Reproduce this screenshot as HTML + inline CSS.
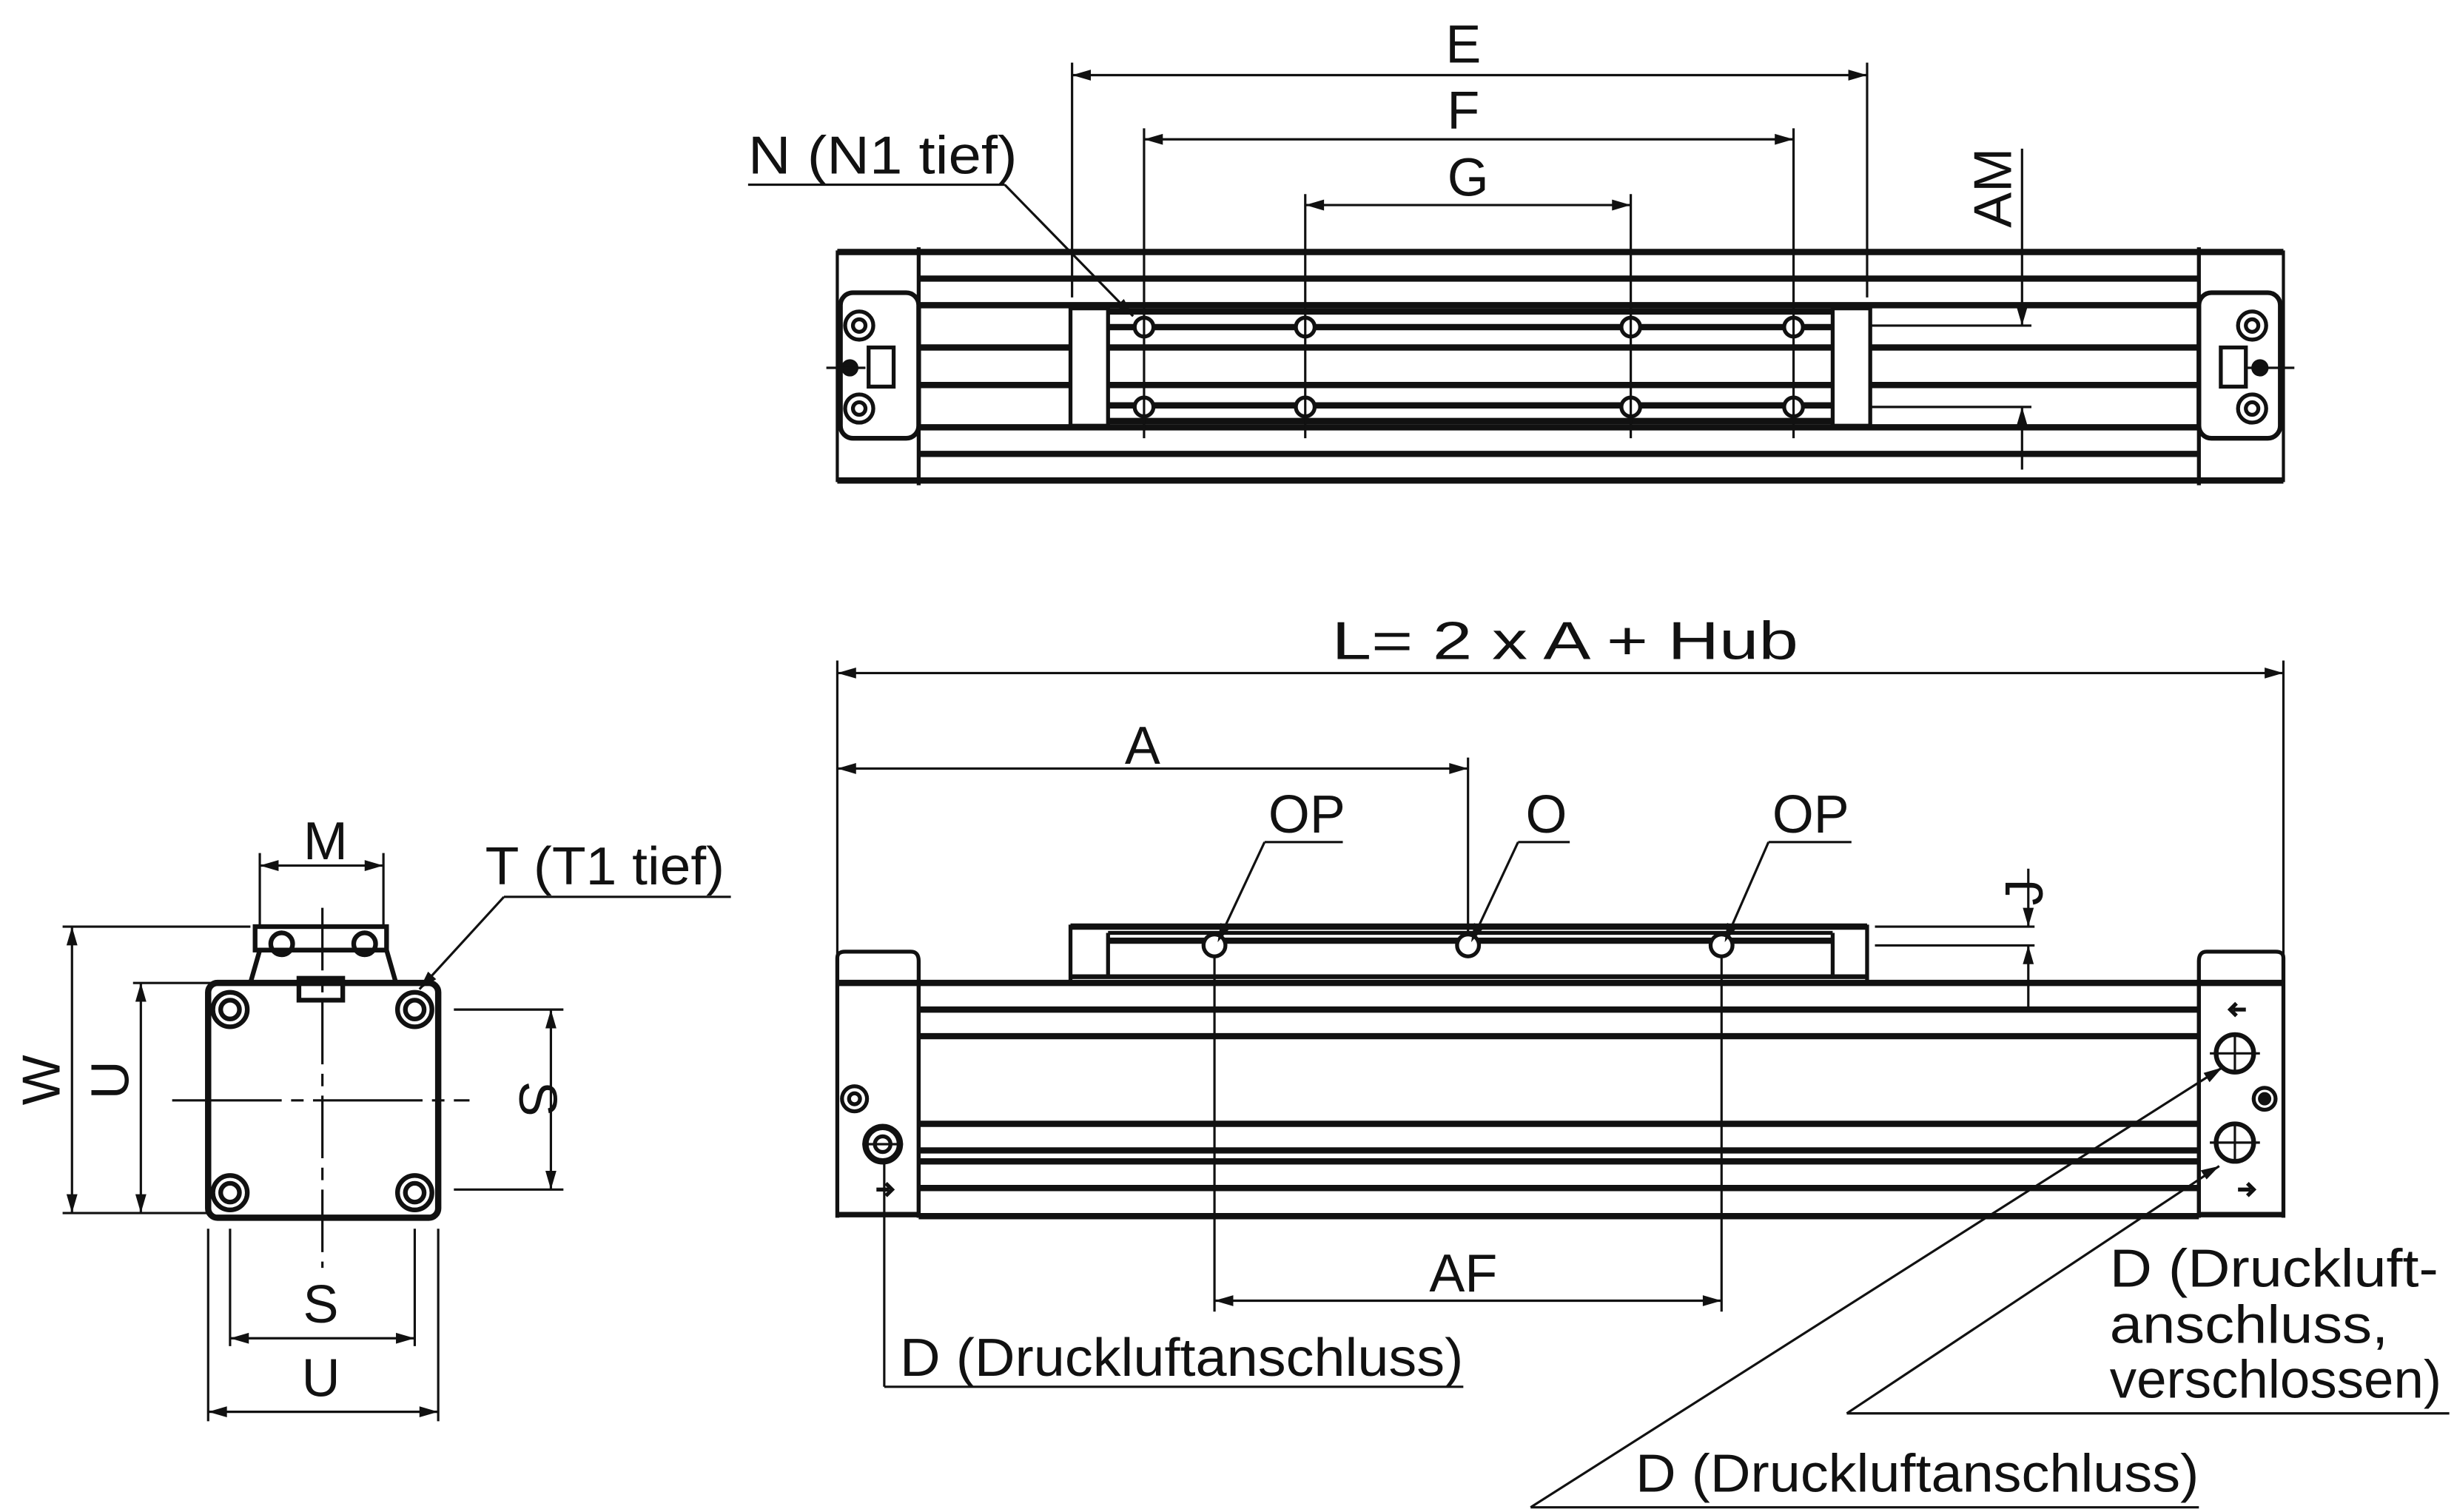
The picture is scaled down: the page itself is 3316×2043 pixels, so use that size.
<!DOCTYPE html>
<html><head><meta charset="utf-8"><style>
html,body{margin:0;padding:0;background:#fff;}
svg{display:block}
text{font-family:"Liberation Sans Narrow","Liberation Sans",sans-serif;fill:#111;}
</style></head><body>
<svg width="3316" height="2043" viewBox="0 0 1568 966" preserveAspectRatio="none" xmlns="http://www.w3.org/2000/svg">
<g stroke="#111" fill="none" stroke-linecap="butt">

<!-- ========== TOP VIEW ========== -->
<rect x="535" y="161" width="52" height="146" stroke-width="2"/>
<line x1="535" y1="161" x2="587" y2="161" stroke-width="4"/>
<line x1="535" y1="307" x2="587" y2="307" stroke-width="4"/>
<rect x="537" y="187" width="50" height="93" rx="8" stroke-width="3"/>
<rect x="1405" y="161" width="54" height="146" stroke-width="2"/>
<line x1="1405" y1="161" x2="1459" y2="161" stroke-width="4"/>
<line x1="1405" y1="307" x2="1459" y2="307" stroke-width="4"/>
<rect x="1405" y="187" width="52" height="93" rx="8" stroke-width="3"/>
<g stroke-width="2.5">
<circle cx="549" cy="208" r="9"/><circle cx="549" cy="208" r="4"/>
<circle cx="549" cy="261" r="9"/><circle cx="549" cy="261" r="4"/>
<circle cx="1439" cy="208" r="9"/><circle cx="1439" cy="208" r="4"/>
<circle cx="1439" cy="261" r="9"/><circle cx="1439" cy="261" r="4"/>
<rect x="555" y="222" width="16" height="25" stroke-width="2.5"/>
<rect x="1419" y="222" width="16" height="25" stroke-width="2.5"/>
</g>
<circle cx="543" cy="235" r="5" fill="#111"/><circle cx="1444" cy="235" r="5" fill="#111"/>
<line x1="528" y1="235" x2="553" y2="235" stroke-width="1.5"/>
<line x1="1435" y1="235" x2="1466" y2="235" stroke-width="1.5"/>
<line x1="587" y1="158" x2="587" y2="310" stroke-width="2.5"/>
<line x1="1405" y1="158" x2="1405" y2="310" stroke-width="2.5"/>
<g stroke-width="4">
<line x1="587" y1="161" x2="1405" y2="161"/>
<line x1="587" y1="178" x2="1405" y2="178"/>
<line x1="587" y1="195" x2="1405" y2="195"/>
<line x1="587" y1="222" x2="684" y2="222"/><line x1="1195" y1="222" x2="1405" y2="222"/>
<line x1="587" y1="246" x2="684" y2="246"/><line x1="1195" y1="246" x2="1405" y2="246"/>
<line x1="587" y1="273" x2="1405" y2="273"/>
<line x1="587" y1="290" x2="1405" y2="290"/>
<line x1="587" y1="307" x2="1405" y2="307"/>
</g>
<rect x="684" y="197" width="24" height="75" stroke-width="2.5"/>
<rect x="1171" y="197" width="24" height="75" stroke-width="2.5"/>
<g stroke-width="4">
<line x1="708" y1="199" x2="1171" y2="199"/>
<line x1="708" y1="209" x2="1171" y2="209"/>
<line x1="708" y1="222" x2="1171" y2="222"/>
<line x1="708" y1="246" x2="1171" y2="246"/>
<line x1="708" y1="259" x2="1171" y2="259"/>
<line x1="708" y1="269" x2="1171" y2="269"/>
</g>
<g stroke-width="2.5" fill="#fff">
<circle cx="731" cy="209" r="6"/><circle cx="834" cy="209" r="6"/><circle cx="1042" cy="209" r="6"/><circle cx="1146" cy="209" r="6"/>
<circle cx="731" cy="260" r="6"/><circle cx="834" cy="260" r="6"/><circle cx="1042" cy="260" r="6"/><circle cx="1146" cy="260" r="6"/>
</g>
<g stroke-width="1.5">
<line x1="685" y1="40" x2="685" y2="190"/><line x1="1193" y1="40" x2="1193" y2="190"/>
<line x1="731" y1="82" x2="731" y2="280"/><line x1="1146" y1="82" x2="1146" y2="280"/>
<line x1="834" y1="124" x2="834" y2="280"/><line x1="1042" y1="124" x2="1042" y2="280"/>
<line x1="685" y1="48" x2="1193" y2="48"/>
<line x1="731" y1="89" x2="1146" y2="89"/>
<line x1="834" y1="131" x2="1042" y2="131"/>
<line x1="1292" y1="95" x2="1292" y2="208"/>
<line x1="1292" y1="300" x2="1292" y2="260"/>
<line x1="1195" y1="208" x2="1298" y2="208"/>
<line x1="1195" y1="260" x2="1298" y2="260"/>
<line x1="478" y1="118" x2="642" y2="118"/>
<line x1="642" y1="118" x2="724" y2="202"/>
</g>

<!-- ========== FRONT VIEW ========== -->
<g stroke-width="1.5">
<line x1="535" y1="422" x2="535" y2="610"/><line x1="1459" y1="422" x2="1459" y2="610"/>
<line x1="535" y1="430" x2="1459" y2="430"/>
<line x1="535" y1="491" x2="938" y2="491"/>
<line x1="938" y1="484" x2="938" y2="598"/>
<line x1="776" y1="598" x2="776" y2="838"/><line x1="1100" y1="598" x2="1100" y2="838"/>
<line x1="776" y1="831" x2="1100" y2="831"/>
<line x1="808" y1="538" x2="858" y2="538"/><line x1="808" y1="538" x2="778" y2="602"/>
<line x1="970" y1="538" x2="1003" y2="538"/><line x1="970" y1="538" x2="940" y2="602"/>
<line x1="1130" y1="538" x2="1183" y2="538"/><line x1="1130" y1="538" x2="1102" y2="602"/>
<line x1="1198" y1="592" x2="1300" y2="592"/>
<line x1="1198" y1="604" x2="1300" y2="604"/>
<line x1="1296" y1="555" x2="1296" y2="592"/>
<line x1="1296" y1="645" x2="1296" y2="604"/>
<line x1="565" y1="740" x2="565" y2="886"/>
<line x1="565" y1="886" x2="935" y2="886"/>
<line x1="1180" y1="903" x2="1565" y2="903"/>
<line x1="1180" y1="903" x2="1418" y2="745"/>
<line x1="978" y1="963" x2="1405" y2="963"/>
<line x1="978" y1="963" x2="1420" y2="682"/>
</g>
<path d="M535,778 L535,612 Q535,608 540,608 L582,608 Q587,608 587,614 L587,778" stroke-width="2.5"/>
<path d="M1405,778 L1405,614 Q1405,608 1410,608 L1454,608 Q1459,608 1459,612 L1459,778" stroke-width="2.5"/>
<line x1="535" y1="776" x2="587" y2="776" stroke-width="3.5"/>
<line x1="1405" y1="776" x2="1459" y2="776" stroke-width="3.5"/>
<g stroke-width="4">
<line x1="535" y1="628" x2="1459" y2="628"/>
<line x1="587" y1="645" x2="1405" y2="645"/>
<line x1="587" y1="662" x2="1405" y2="662"/>
<line x1="587" y1="718" x2="1405" y2="718"/>
<line x1="587" y1="735" x2="1405" y2="735"/>
<line x1="587" y1="742" x2="1405" y2="742"/>
<line x1="587" y1="759" x2="1405" y2="759"/>
<line x1="587" y1="777" x2="1405" y2="777"/>
</g>
<line x1="587" y1="628" x2="587" y2="778" stroke-width="2.5"/>
<line x1="1405" y1="628" x2="1405" y2="778" stroke-width="2.5"/>
<path d="M684,627 L684,592 L1193,592 L1193,627" stroke-width="2.5"/>
<line x1="684" y1="592" x2="1193" y2="592" stroke-width="4"/>
<line x1="708" y1="596" x2="1171" y2="596" stroke-width="2.5"/>
<line x1="708" y1="601" x2="1171" y2="601" stroke-width="4"/>
<line x1="708" y1="596" x2="708" y2="624" stroke-width="2.5"/>
<line x1="1171" y1="596" x2="1171" y2="624" stroke-width="2.5"/>
<line x1="684" y1="624" x2="1193" y2="624" stroke-width="3"/>
<g stroke-width="2.5" fill="#fff">
<circle cx="776" cy="604" r="7"/><circle cx="938" cy="604" r="7"/><circle cx="1100" cy="604" r="7"/>
</g>
<g stroke-width="2.5">
<circle cx="546" cy="702" r="8"/><circle cx="546" cy="702" r="3.5"/>
<circle cx="564" cy="731" r="11" stroke-width="4"/><circle cx="564" cy="731" r="5"/>
<line x1="551" y1="731" x2="577" y2="731" stroke-width="1.5"/>
<circle cx="1428" cy="673" r="12" stroke-width="3"/>
<line x1="1412" y1="673" x2="1444" y2="673" stroke-width="1.5"/><line x1="1428" y1="660" x2="1428" y2="686" stroke-width="1.5"/>
<circle cx="1428" cy="730" r="12" stroke-width="3"/>
<line x1="1412" y1="730" x2="1444" y2="730" stroke-width="1.5"/><line x1="1428" y1="717" x2="1428" y2="743" stroke-width="1.5"/>
<circle cx="1447" cy="702" r="7"/><circle cx="1447" cy="702" r="3" fill="#111"/>
<path d="M1435,645 h-8 M1429,641 l-4,4 l4,4" stroke-width="2.5"/>
<path d="M1430,760 h8 M1436,756 l4,4 l-4,4" stroke-width="2.5"/>
<path d="M560,760 h8 M566,756 l4,4 l-4,4" stroke-width="2.5"/>
</g>

<!-- ========== LEFT VIEW ========== -->
<rect x="133" y="628" width="147" height="150" rx="6" stroke-width="4"/>
<path d="M160,628 L166,607 L247,607 L253,628" stroke-width="3"/>
<rect x="163" y="592" width="84" height="15" stroke-width="3"/>
<rect x="191" y="625" width="28" height="14" stroke-width="3"/>
<g stroke-width="3">
<circle cx="180" cy="603" r="7"/><circle cx="233" cy="603" r="7"/>
<circle cx="147" cy="645" r="11"/><circle cx="147" cy="645" r="6"/>
<circle cx="265" cy="645" r="11"/><circle cx="265" cy="645" r="6"/>
<circle cx="147" cy="762" r="11"/><circle cx="147" cy="762" r="6"/>
<circle cx="265" cy="762" r="11"/><circle cx="265" cy="762" r="6"/>
</g>
<g stroke-width="1.5">
<line x1="206" y1="580" x2="206" y2="810" stroke-dasharray="40,6,8,6"/>
<line x1="110" y1="703" x2="300" y2="703" stroke-dasharray="70,6,8,6"/>
<line x1="166" y1="545" x2="166" y2="592"/><line x1="245" y1="545" x2="245" y2="592"/>
<line x1="166" y1="553" x2="245" y2="553"/>
<line x1="40" y1="592" x2="160" y2="592"/><line x1="40" y1="775" x2="135" y2="775"/>
<line x1="46" y1="592" x2="46" y2="775"/>
<line x1="85" y1="628" x2="135" y2="628"/>
<line x1="90" y1="628" x2="90" y2="775"/>
<line x1="290" y1="645" x2="360" y2="645"/><line x1="290" y1="760" x2="360" y2="760"/>
<line x1="352" y1="645" x2="352" y2="760"/>
<line x1="133" y1="785" x2="133" y2="908"/><line x1="280" y1="785" x2="280" y2="908"/>
<line x1="147" y1="785" x2="147" y2="860"/><line x1="265" y1="785" x2="265" y2="860"/>
<line x1="147" y1="855" x2="265" y2="855"/>
<line x1="133" y1="902" x2="280" y2="902"/>
<line x1="322" y1="573" x2="467" y2="573"/>
<line x1="322" y1="573" x2="268" y2="632"/>
</g>
</g>

<!-- ========== ARROWHEADS ========== -->
<g fill="#111" stroke="none">
<!-- horizontal -->
<polygon points="685,48 697,44.5 697,51.5"/><polygon points="1193,48 1181,44.5 1181,51.5"/>
<polygon points="731,89 743,85.5 743,92.5"/><polygon points="1146,89 1134,85.5 1134,92.5"/>
<polygon points="834,131 846,127.5 846,134.5"/><polygon points="1042,131 1030,127.5 1030,134.5"/>
<polygon points="535,430 547,426.5 547,433.5"/><polygon points="1459,430 1447,426.5 1447,433.5"/>
<polygon points="535,491 547,487.5 547,494.5"/><polygon points="938,491 926,487.5 926,494.5"/>
<polygon points="776,831 788,827.5 788,834.5"/><polygon points="1100,831 1088,827.5 1088,834.5"/>
<polygon points="166,553 178,549.5 178,556.5"/><polygon points="245,553 233,549.5 233,556.5"/>
<polygon points="147,855 159,851.5 159,858.5"/><polygon points="265,855 253,851.5 253,858.5"/>
<polygon points="133,902 145,898.5 145,905.5"/><polygon points="280,902 268,898.5 268,905.5"/>
<!-- vertical -->
<polygon points="46,592 42.5,604 49.5,604"/><polygon points="46,775 42.5,763 49.5,763"/>
<polygon points="90,628 86.5,640 93.5,640"/><polygon points="90,775 86.5,763 93.5,763"/>
<polygon points="352,645 348.5,657 355.5,657"/><polygon points="352,760 348.5,748 355.5,748"/>
<polygon points="1292,208 1288.5,196 1295.5,196"/><polygon points="1292,260 1288.5,272 1295.5,272"/>
<polygon points="1296,592 1292.5,580 1299.5,580"/><polygon points="1296,604 1292.5,616 1299.5,616"/>
<!-- leaders -->
<polygon points="724,202 713.1,195.8 718.1,191"/>
<polygon points="778,602 779.9,589.7 786.3,592.6"/>
<polygon points="940,602 941.9,589.7 948.3,592.6"/>
<polygon points="1102,602 1103.6,589.6 1110,592.4"/>
<polygon points="1418,745 1409.9,753.5 1406.1,747.7"/>
<polygon points="1420,682 1411.8,691.4 1408,685.5"/>
<polygon points="268,632 273.5,620.8 278.7,625.6"/>
</g>

<!-- ========== TEXT ========== -->
<g font-size="34">
<text x="935" y="40" text-anchor="middle">E</text>
<text x="935" y="82" text-anchor="middle">F</text>
<text x="938" y="125" text-anchor="middle">G</text>
<text x="478" y="111" textLength="172" lengthAdjust="spacingAndGlyphs">N (N1 tief)</text>
<text transform="translate(1285,120) rotate(-90)" text-anchor="middle">AM</text>
<text x="1000" y="421" text-anchor="middle" textLength="298" lengthAdjust="spacingAndGlyphs">L= 2 x A + Hub</text>
<text x="730" y="488" text-anchor="middle">A</text>
<text x="835" y="532" text-anchor="middle">OP</text>
<text x="988" y="532" text-anchor="middle">O</text>
<text x="1157" y="532" text-anchor="middle">OP</text>
<text transform="translate(1305,570) rotate(-90)" text-anchor="middle">J</text>
<text x="935" y="825" text-anchor="middle">AF</text>
<text x="575" y="879" textLength="360" lengthAdjust="spacingAndGlyphs">D (Druckluftanschluss)</text>
<text x="1348" y="822" textLength="210" lengthAdjust="spacingAndGlyphs">D (Druckluft-</text>
<text x="1348" y="858" textLength="178" lengthAdjust="spacingAndGlyphs">anschluss,</text>
<text x="1348" y="893" textLength="212" lengthAdjust="spacingAndGlyphs">verschlossen)</text>
<text x="1045" y="953" textLength="360" lengthAdjust="spacingAndGlyphs">D (Druckluftanschluss)</text>
<text x="208" y="549" text-anchor="middle">M</text>
<text x="310" y="565" textLength="153" lengthAdjust="spacingAndGlyphs">T (T1 tief)</text>
<text transform="translate(38,690) rotate(-90)" text-anchor="middle">W</text>
<text transform="translate(82,690) rotate(-90)" text-anchor="middle">U</text>
<text transform="translate(332,702) rotate(90)" text-anchor="middle">S</text>
<text x="205" y="845" text-anchor="middle">S</text>
<text x="205" y="892" text-anchor="middle">U</text>
</g>
</svg>
</body></html>
